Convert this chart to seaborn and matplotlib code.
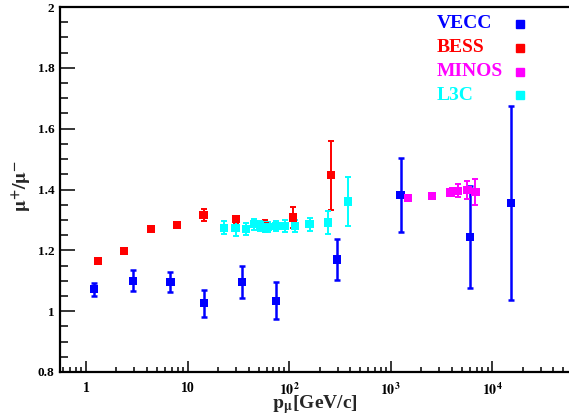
import numpy as np
import pandas as pd
import matplotlib
matplotlib.use("Agg")
import matplotlib.pyplot as plt
import seaborn as sns
from matplotlib.ticker import FixedLocator, LogLocator, MultipleLocator, NullFormatter

# ---------------- data ----------------
vecc_p = [1.20, 2.9, 6.8, 14.6, 34.3, 74.0, 297, 1250, 6050, 15300]
vecc_r = [1.072, 1.100, 1.096, 1.026, 1.096, 1.034, 1.170, 1.382, 1.243, 1.356]
vecc_e = [0.021, 0.034, 0.034, 0.045, 0.052, 0.061, 0.067, 0.123, 0.167, 0.320]

bess_p = [1.31, 2.36, 4.35, 7.83, 14.4, 30.2, 57.3, 109, 257]
bess_r = [1.165, 1.198, 1.271, 1.283, 1.317, 1.302, 1.279, 1.308, 1.447]
bess_e = [0.006, 0.006, 0.008, 0.010, 0.019, 0.012, 0.020, 0.036, 0.114]

minos_p = [1490, 2550, 3880, 4090, 4610, 5690, 6820]
minos_r = [1.373, 1.378, 1.390, 1.394, 1.396, 1.398, 1.392]
minos_e = [0.005, 0.006, 0.008, 0.010, 0.021, 0.030, 0.042]

l3c_p = [22.8, 29.7, 37.5, 45.0, 51.8, 57.3, 61.8, 74.0, 90.1, 115, 159, 240, 381]
l3c_r = [1.274, 1.274, 1.271, 1.286, 1.280, 1.276, 1.277, 1.280, 1.280, 1.280, 1.286, 1.292, 1.361]
l3c_e = [0.021, 0.026, 0.019, 0.018, 0.016, 0.016, 0.016, 0.016, 0.020, 0.020, 0.021, 0.038, 0.080]

experiments = ["VECC", "BESS", "MINOS", "L3C"]
colors = {"VECC": "#0000ff", "BESS": "#ff0000", "MINOS": "#ff00ff", "L3C": "#00ffff"}

x_ticks = [1, 10, 100, 1000, 10000]
x_ticklabels = ["1", "10", r"$\mathbf{10^{2}}$", r"$\mathbf{10^{3}}$", r"$\mathbf{10^{4}}$"]
y_ticks = [0.8, 1.0, 1.2, 1.4, 1.6, 1.8, 2.0]
y_ticklabels = ["0.8", "1", "1.2", "1.4", "1.6", "1.8", "2"]

series = {
    "VECC": (vecc_p, vecc_r, vecc_e),
    "BESS": (bess_p, bess_r, bess_e),
    "MINOS": (minos_p, minos_r, minos_e),
    "L3C": (l3c_p, l3c_r, l3c_e),
}

frames = []
for name in experiments:
    p, r, e = series[name]
    frames.append(pd.DataFrame({"p": p, "ratio": r, "err": e, "exp": name}))
df = pd.concat(frames, ignore_index=True)

# ---------------- style ----------------
sns.set_theme(style="ticks")
plt.rcParams["font.family"] = ["Liberation Serif", "DejaVu Serif"]
plt.rcParams["mathtext.fontset"] = "stix"

W, H = 569, 416
fig = plt.figure(figsize=(W / 100, H / 100), dpi=100)
left, bottom, top = 60, 372, 7
ax = fig.add_axes([left / W, 1 - bottom / H, 1 - left / W, (bottom - top) / H])

for name in experiments:
    sub = df[df["exp"] == name]
    lw = 1.8 if name == "VECC" else 1.4
    ax.errorbar(sub["p"], sub["ratio"], yerr=sub["err"], fmt="none",
                ecolor=colors[name], elinewidth=lw, capsize=2, capthick=lw, zorder=2)

sns.scatterplot(data=df, x="p", y="ratio", hue="exp", hue_order=experiments,
                palette=colors, marker="s", s=36, linewidth=0, legend=False,
                ax=ax, zorder=3)

ax.set_xscale("log")
ax.set_xlim(10 ** -0.255, 10 ** 4.755)
ax.set_ylim(0.8, 2.0)

ax.xaxis.set_major_locator(FixedLocator(x_ticks))
ax.set_xticklabels(x_ticklabels, fontsize=10, fontweight="bold")
ax.xaxis.set_minor_locator(LogLocator(base=10, subs=np.arange(2, 10), numticks=50))
ax.xaxis.set_minor_formatter(NullFormatter())

ax.yaxis.set_major_locator(FixedLocator(y_ticks))
ax.set_yticklabels(y_ticklabels, fontsize=9.5, fontweight="bold")
ax.yaxis.set_minor_locator(MultipleLocator(0.05))

ax.tick_params(axis="y", which="major", direction="in", length=10.8, width=1.1, pad=4, colors="black")
ax.tick_params(axis="y", which="minor", direction="in", length=5.4, width=1.1, colors="black")
ax.tick_params(axis="x", which="major", direction="in", length=7.7, width=1.1, pad=7, colors="black")
ax.tick_params(axis="x", which="minor", direction="in", length=3.6, width=1.1, colors="black")

for s in ["left", "bottom", "top"]:
    ax.spines[s].set_linewidth(1.6)
    ax.spines[s].set_color("black")
ax.spines["right"].set_visible(False)

ax.set_xlabel(r"$\mathbf{p_{\mu}}$[GeV/c]", fontsize=14, fontweight="bold", labelpad=0)
ax.xaxis.set_label_coords((315 - left) / (W - left), -0.058)
ax.set_ylabel(r"$\mathbf{\mu^{+}/\mu^{-}}$", fontsize=14, fontweight="bold")
ax.yaxis.set_label_coords(-0.052, 0.51)

# legend (manual, ROOT style)
leg_y = [24, 48, 72, 95]
for name, yy in zip(experiments, leg_y):
    fig.text(437 / W, 1 - yy / H, name, color=colors[name], fontsize=14,
             fontweight="bold", ha="left", va="center")
    ax.plot([520 / W], [1 - yy / H], marker="s", ms=5.5, color=colors[name],
            linestyle="none", transform=fig.transFigure, clip_on=False)

fig.savefig("out.png", dpi=100)
